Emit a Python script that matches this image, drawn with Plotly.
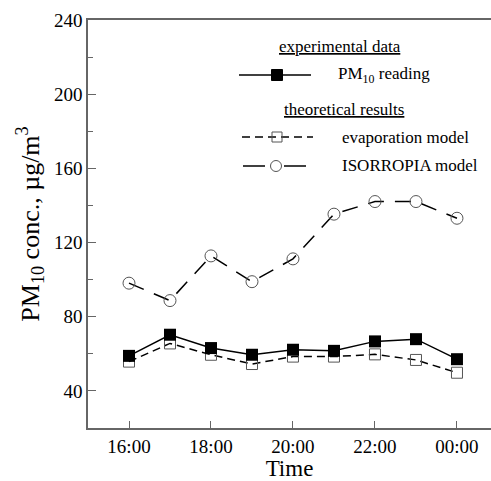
import plotly.graph_objects as go

# ---- data ----
hours = [16, 17, 18, 19, 20, 21, 22, 23, 24]
pm10_reading = [58.9, 70.3, 63.1, 59.5, 62.2, 61.6, 66.7, 67.9, 57.1]
evaporation_model = [55.8, 65.6, 59.5, 54.5, 58.5, 58.5, 59.7, 56.7, 49.8]
isorropia_model = [98.1, 88.7, 112.8, 98.9, 111.2, 135.3, 142.1, 142.1, 133.1]
x_tickvals = [16, 18, 20, 22, 24]
x_ticktext = ["16:00", "18:00", "20:00", "22:00", "00:00"]
y_tickvals = [40, 80, 120, 160, 200, 240]

FONT = "Liberation Serif, Times New Roman, serif"
W, H = 491, 481
ML, MR, MT, MB = 88, 0, 20, 53
PW, PH = W - ML - MR, H - MT - MB
AX = "#666666"

def px(x):
    return (x - ML) / PW

def py(y):
    return (H - MB - y) / PH

fig = go.Figure()
fig.add_trace(go.Scatter(
    x=hours, y=isorropia_model, mode="lines+markers", name="ISORROPIA model",
    line=dict(color="black", width=1.5, dash="16px,11px"),
    marker=dict(symbol="circle-open", size=12, color="#555555", line=dict(width=1)),
    showlegend=False))
fig.add_trace(go.Scatter(
    x=hours, y=evaporation_model, mode="lines+markers", name="evaporation model",
    line=dict(color="black", width=1.5, dash="8px,5px"),
    marker=dict(symbol="square-open", size=11, color="#555555", line=dict(width=1)),
    showlegend=False))
fig.add_trace(go.Scatter(
    x=hours, y=pm10_reading, mode="lines+markers", name="PM10 reading",
    line=dict(color="black", width=1.5),
    marker=dict(symbol="square", size=12, color="black"),
    showlegend=False))

# ---- custom legend ----
shapes = []
annotations = []
leg_font = dict(family=FONT, size=17, color="black")

def header(text, cx, cy):
    annotations.append(dict(xref="paper", yref="paper", x=px(cx), y=py(cy),
                            text="<u>" + text + "</u>", showarrow=False,
                            xanchor="center", yanchor="middle", font=leg_font))

def label(text, lx, cy):
    annotations.append(dict(xref="paper", yref="paper", x=px(lx), y=py(cy),
                            text=text, showarrow=False,
                            xanchor="left", yanchor="middle", font=leg_font))

def sample_line(x0, x1, cy, dash):
    shapes.append(dict(type="line", xref="paper", yref="paper",
                       x0=px(x0), x1=px(x1), y0=py(cy), y1=py(cy),
                       line=dict(color="black", width=1.5, dash=dash)))

def sample_marker(kind, cx, cy, size, fill, edge):
    shapes.append(dict(type=kind, xref="paper", yref="paper",
                       xsizemode="pixel", ysizemode="pixel",
                       xanchor=px(cx), yanchor=py(cy),
                       x0=-size / 2, x1=size / 2, y0=-size / 2, y1=size / 2,
                       fillcolor=fill, line=dict(color=edge, width=1)))

header("experimental data", 340, 47)
sample_line(239, 311, 75, "solid")
sample_marker("rect", 277, 75, 11, "black", "black")
label("PM<sub>10</sub> reading", 336, 75)

header("theoretical results", 344, 109)
sample_line(242, 313, 137, "8px,5px")
sample_marker("rect", 277, 137, 10, "rgba(0,0,0,0)", "#555555")
label("evaporation model", 340, 137)

sample_line(243, 265, 166, "solid")
sample_line(284, 306, 166, "solid")
sample_marker("circle", 276, 166, 11, "rgba(0,0,0,0)", "#555555")
label("ISORROPIA model", 340, 166)

fig.update_layout(
    width=W, height=H,
    margin=dict(l=ML, r=MR, t=MT, b=MB, pad=0),
    paper_bgcolor="white", plot_bgcolor="white",
    font=dict(family=FONT, color="black"),
    shapes=shapes, annotations=annotations,
    xaxis=dict(range=[15, 24.83], tickvals=x_tickvals, ticktext=x_ticktext,
               showgrid=False, zeroline=False, showline=True, linecolor=AX,
               linewidth=1.5, mirror=True, ticks="inside", ticklen=7,
               tickcolor=AX, tickwidth=1,
               tickfont=dict(family=FONT, size=19, color="black"),
               title=dict(text="Time", font=dict(family=FONT, size=23, color="black"),
                          standoff=2)),
    yaxis=dict(range=[20, 240], tickvals=y_tickvals,
               showgrid=False, zeroline=False, showline=True, linecolor=AX,
               linewidth=1.5, ticks="inside", ticklen=8, tickcolor=AX, tickwidth=1,
               minor=dict(tickvals=[60, 100, 140, 180, 220], ticks="inside",
                          ticklen=5, tickcolor=AX, tickwidth=1, showgrid=False),
               tickfont=dict(family=FONT, size=19, color="black"),
               title=dict(text="PM<sub>10</sub> conc., µg/m<sup>3</sup>",
                          font=dict(family=FONT, size=26, color="black"),
                          standoff=7)),
)

fig.write_html("out.html")
